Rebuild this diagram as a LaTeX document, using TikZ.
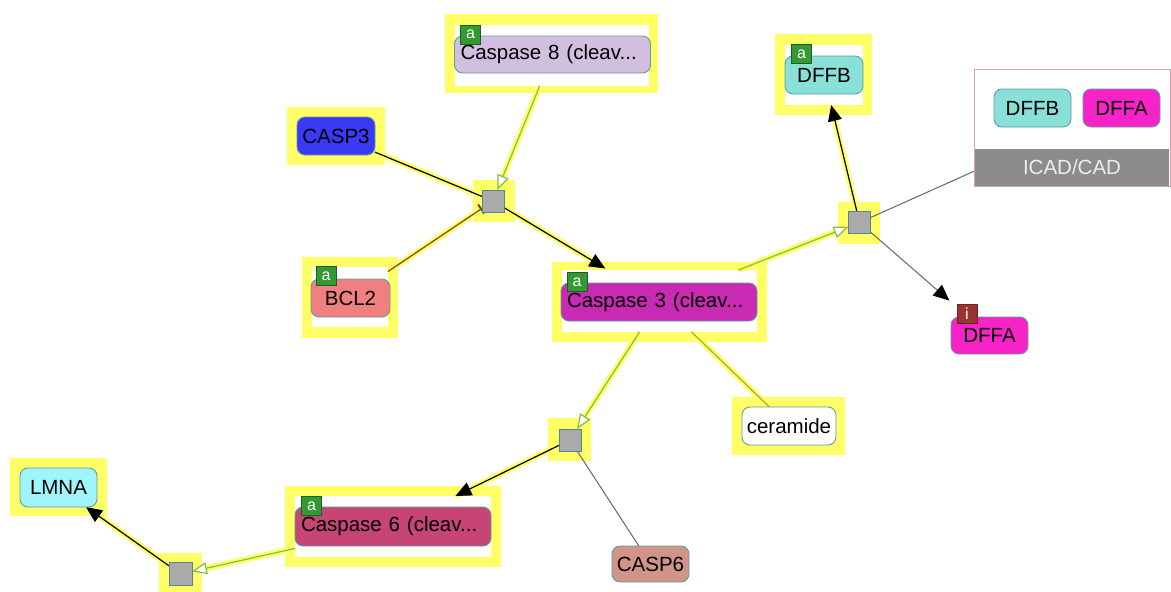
\documentclass[tikz,border=0pt]{standalone}
\usepackage{fontspec}
\setmainfont{Liberation Sans}
\usetikzlibrary{arrows.meta}
\definecolor{hly}{HTML}{FFFF66}
\definecolor{entborder}{HTML}{5F9EA0}
\definecolor{procgray}{HTML}{AAAAAA}
\definecolor{procborder}{HTML}{4A8C8C}
\definecolor{badgegreen}{HTML}{339933}
\definecolor{badgeborder}{HTML}{1E5E1E}
\definecolor{badgered}{HTML}{993333}
\definecolor{cviolet}{HTML}{D2BFE0}
\definecolor{cblue}{HTML}{3A3AF5}
\definecolor{ccoral}{HTML}{F08080}
\definecolor{cmag}{HTML}{C82AB4}
\definecolor{cturq}{HTML}{88E0D8}
\definecolor{cpink}{HTML}{F722C8}
\definecolor{crosy}{HTML}{D09488}
\definecolor{crasp}{HTML}{C64575}
\definecolor{ccyan}{HTML}{A0F4FC}
\definecolor{lgreen}{HTML}{7FC040}
\definecolor{lred}{HTML}{8B3A3A}
\definecolor{lolive}{HTML}{AAAA33}
\definecolor{lgray}{HTML}{666666}
\definecolor{cxborder}{HTML}{D8A0B4}
\definecolor{cxgray}{HTML}{8C8C8C}
\pgfdeclarelayer{halolayer}
\pgfdeclarelayer{edgelayer}
\pgfsetlayers{halolayer,edgelayer,main}
\begin{document}
\begin{tikzpicture}[x=1pt,y=-1pt,
  bx/.style={inner sep=0pt, outer sep=0pt},
  hlo/.style={bx, fill=hly},
  hli/.style={bx, fill=white},
  ent/.style={bx, draw=entborder, line width=0.9pt, rounded corners=8pt, font=\fontsize{20.5}{24}\selectfont},
  longent/.style={ent, inner xsep=6pt, text width=184pt, align=left, minimum width=196pt},
  badge/.style={bx, draw=badgeborder, fill=badgegreen, line width=0.6pt, minimum width=20pt, minimum height=19pt, text=white, font=\fontsize{16}{18}\selectfont},
  proc/.style={bx, draw=procborder, fill=procgray, line width=0.9pt},
  hlline/.style={preaction={draw=hly, line width=6pt, arrows=-}},
  blk/.style={draw=black, line width=1.2pt},
  grn/.style={draw=lgreen, line width=1.2pt},
  filled/.style={-{Triangle[length=16pt,width=14pt,color=black,fill=black]}},
  opentip/.style={-{Triangle[fill=white,length=15pt,width=12pt]}},
  bartip/.style={-{Bar[width=11pt,line width=2pt]}},
]
\useasboundingbox (0,0) rectangle (1171,592);

% ---------- highlights ----------
\begin{pgfonlayer}{halolayer}
\node[hlo, minimum width=213pt, minimum height=79pt] (c8h) at (551.5,53.5) {};
\node[hli, minimum width=194pt, minimum height=61pt] (c8w) at (552,55.5) {};
\node[hlo, minimum width=98pt, minimum height=58pt] (casp3h) at (336,136) {};
\node[hlo, minimum width=96pt, minimum height=81pt] (bcl2h) at (350,297.5) {};
\node[hli, minimum width=76pt, minimum height=60pt] (bcl2w) at (350,297) {};
\node[hlo, minimum width=215pt, minimum height=80pt] (c3h) at (659.5,302) {};
\node[hli, minimum width=195pt, minimum height=62pt] (c3w) at (659.5,301) {};
\node[hlo, minimum width=97pt, minimum height=81pt] (dffbh) at (823.5,74.5) {};
\node[hli, minimum width=78pt, minimum height=60pt] (dffbw) at (824,75) {};
\node[hlo, minimum width=113pt, minimum height=58pt] (cerh) at (788.5,426) {};
\node[hlo, minimum width=216pt, minimum height=81pt] (c6h) at (393,526.5) {};
\node[hli, minimum width=196pt, minimum height=61pt] (c6w) at (393,526.5) {};
\node[hlo, minimum width=97pt, minimum height=58pt] (lmnah) at (58.5,487) {};
\node[hlo, minimum size=42pt] (sq1h) at (494,201) {};
\node[hlo, minimum size=43pt] (sq2h) at (569.5,439.5) {};
\node[hlo, minimum size=43pt] (sq3h) at (180.5,574) {};
\node[hlo, minimum size=42pt] (sq4h) at (859,222.5) {};
\end{pgfonlayer}

% ---------- entities ----------
\node[longent, fill=cviolet, minimum height=37pt] (c8) at (552.5,54.5) {Caspase 8 (cleav...};
\node[badge] (c8b) at (470.5,34.5) {a};
\node[ent, fill=cblue, minimum width=78pt, minimum height=38pt] (casp3) at (336,136) {CASP3};
\node[ent, fill=ccoral, minimum width=79pt, minimum height=38pt] (bcl2) at (350.5,298) {BCL2};
\node[badge] (bcl2b) at (326,276) {a};
\node[longent, fill=cmag, minimum height=38pt] (c3) at (659,302) {Caspase 3 (cleav...};
\node[badge] (c3b) at (577,282) {a};
\node[ent, fill=cturq, minimum width=78pt, minimum height=38pt] (dffb) at (824,75) {DFFB};
\node[badge] (dffbbadge) at (801.5,54) {a};
\node[ent, fill=cpink, minimum width=77pt, minimum height=37pt] (dffa) at (989.5,335.5) {DFFA};
\node[badge, fill=badgered, draw=badgered!70!black] (dffabadge) at (967,314) {i};
\node[ent, fill=white, minimum width=94pt, minimum height=38pt] (cer) at (789,426) {ceramide};
\node[ent, fill=crosy, minimum width=77pt, minimum height=36pt] (casp6) at (650.5,564) {CASP6};
\node[longent, fill=crasp, minimum height=39pt] (c6) at (393,526.5) {Caspase 6 (cleav...};
\node[badge] (c6b) at (311.5,506) {a};
\node[ent, fill=ccyan, minimum width=77pt, minimum height=39pt] (lmna) at (58.5,487.5) {LMNA};

% ---------- complex ----------
\node[bx, draw=cxborder, fill=white, line width=1pt, minimum width=196pt, minimum height=117pt] (icad) at (1072,127.5) {};
\node[bx, fill=cxgray, minimum width=194pt, minimum height=37pt, text=white!93!black, font=\fontsize{20.5}{24}\selectfont] (icadlbl) at (1072,167.5) {ICAD/CAD};
\node[ent, fill=cturq, minimum width=77pt, minimum height=38pt] (cxdffb) at (1032.5,108) {DFFB};
\node[ent, fill=cpink, minimum width=77pt, minimum height=38pt] (cxdffa) at (1121.5,108) {DFFA};

% ---------- process squares ----------
\node[proc, minimum size=22pt] (sq1) at (493,201) {};
\node[proc, minimum size=22pt] (sq2) at (570,440) {};
\node[proc, minimum size=23pt] (sq3) at (180.5,574) {};
\node[proc, minimum size=22pt] (sq4) at (859.5,222.5) {};

% ---------- edges ----------
\begin{pgfonlayer}{edgelayer}
\draw[hlline, blk] (casp3) -- (sq1);
\draw[hlline, grn, opentip] (c8w) -- (sq1);
\draw[hlline, draw=lred, line width=1.2pt, bartip] (bcl2w) -- (sq1);
\draw[hlline, blk, filled, shorten >=3pt] (sq1) -- (c3w);
\draw[hlline, grn, opentip] (c3w) -- (sq4);
\draw[hlline, grn, opentip] (c3w) -- (sq2);
\draw[hlline, draw=lolive, line width=1.2pt] (c3w) -- (cer);
\draw[hlline, blk, filled] (sq2) -- (c6w);
\draw[hlline, grn, opentip] (c6w) -- (sq3);
\draw[hlline, blk, filled] (sq3) -- (lmna);
\draw[hlline, blk, filled] (sq4) -- (dffbw);
\draw[draw=lgray, line width=1pt, filled, shorten >=25pt] (sq4) -- (dffa);
\draw[draw=lgray, line width=1pt] (sq4) -- (icad);
\draw[draw=lgray, line width=1pt] (sq2) -- (casp6);
\end{pgfonlayer}
\end{tikzpicture}
\end{document}
